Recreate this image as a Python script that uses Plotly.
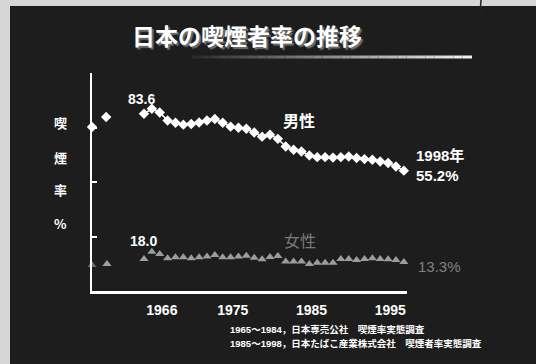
import plotly.graph_objects as go

# ---- data ----
years = list(range(1965, 1999))
male = [81.3, 83.6, 81.9, 78.2, 77.2, 76.3, 76.6, 77.3, 78.2, 78.9,
        77.2, 75.4, 74.9, 74.4, 72.7, 70.8, 71.7, 69.8, 66.3, 64.8,
        64.0, 62.2, 61.4, 61.4, 61.2, 61.4, 61.7, 61.0, 60.5, 60.2,
        59.4, 58.7, 57.1, 55.2]
female = [14.7, 18.0, 17.0, 15.0, 15.5, 15.5, 15.0, 15.5, 15.8, 16.5,
          15.5, 15.5, 15.8, 16.2, 15.3, 14.6, 15.6, 16.1, 13.5, 13.5,
          13.5, 12.4, 13.0, 13.0, 13.0, 14.7, 14.7, 14.2, 14.7, 15.0,
          14.7, 14.6, 14.2, 13.3]
early_years_m = [1958.4, 1960.2]
early_male = [75.2, 79.8]
early_years_f = [1958.4, 1960.3]
early_female = [11.9, 12.4]
tick_years = [1966, 1975, 1985, 1995]
tick_labels = ["1966", "1975", "1985", "1995"]
ytick_vals = [25, 50, 75, 100]

# ---- layout geometry ----
W, H = 536, 364
L, R, T, B = 92, 129, 73, 73
PW, PH = W - L - R, H - T - B


def px(x):
    return (x - L) / PW


def py(y):
    return (H - B - y) / PH


FONT = "Liberation Sans, Noto Sans CJK JP, sans-serif"
CJK = "Noto Sans CJK JP, sans-serif"
BG = "#1d1d1d"

fig = go.Figure()
fig.add_trace(go.Scatter(x=years, y=female, mode="markers",
                         marker=dict(symbol="triangle-up", size=8, color="#9c9c9c"),
                         cliponaxis=False, showlegend=False))
fig.add_trace(go.Scatter(x=early_years_f, y=early_female, mode="markers",
                         marker=dict(symbol="triangle-up", size=8, color=["#6a6a6a", "#a0a0a0"]),
                         cliponaxis=False, showlegend=False))
fig.add_trace(go.Scatter(x=years, y=male, mode="lines+markers",
                         line=dict(color="white", width=1.5),
                         marker=dict(symbol="diamond", size=8, color="white"),
                         cliponaxis=False, showlegend=False))
fig.add_trace(go.Scatter(x=early_years_m, y=early_male, mode="markers",
                         marker=dict(symbol="diamond", size=8, color="white"),
                         cliponaxis=False, showlegend=False))

shapes = [
    dict(type="rect", xref="paper", yref="paper", x0=px(0), x1=px(10), y0=py(H), y1=py(0),
         fillcolor="#d6d6d6", line=dict(width=0), layer="below"),
    dict(type="rect", xref="paper", yref="paper", x0=px(0), x1=px(W), y0=py(6), y1=py(0),
         fillcolor="#d6d6d6", line=dict(width=0), layer="below"),
    dict(type="line", xref="paper", yref="paper", x0=px(481), x1=px(480), y0=py(0), y1=py(14),
         line=dict(color="#222", width=1.5)),
]
# gradient rule under the title
N = 30
x_start, x_end, y_rule = 192, 472, 57
for i in range(N):
    t = i / (N - 1)
    c = int(45 + (240 - 45) * t)
    shapes.append(dict(type="line", xref="paper", yref="paper",
                       x0=px(x_start + (x_end - x_start) * i / N),
                       x1=px(x_start + (x_end - x_start) * (i + 1) / N),
                       y0=py(y_rule), y1=py(y_rule),
                       line=dict(color=f"rgb({c},{c},{c})", width=3)))

ann = []


def add(text, x, y, size, color="white", bold=True, xanchor="center", family=FONT, shadow=None):
    f = dict(size=size, color=color, family=family)
    if shadow:
        f["shadow"] = shadow
    ann.append(dict(text=f"<b>{text}</b>" if bold else text, x=px(x), y=py(y),
                    xref="paper", yref="paper", showarrow=False,
                    xanchor=xanchor, yanchor="middle", font=f))


# title with drop shadow
add("日本の喫煙者率の推移", 247, 35, 23, family=CJK, shadow="2px 2px 1px #6e6e6e")
# y-axis title, stacked
for ch, yy in zip(["喫", "煙", "率", "%"], [122, 157, 189, 223]):
    add(ch, 60, yy, 13, family=CJK)
add("83.6", 141, 99, 14)
add("男性", 299, 120, 16, family=CJK)
add("1998年", 414, 155, 15, xanchor="left")
add("55.2%", 414, 175, 15, xanchor="left")
add("18.0", 143, 241, 14)
add("女性", 300, 240, 16, color="#7a7a7a", bold=False, family=CJK)
add("13.3%", 416, 266, 15, color="#808080", bold=False, xanchor="left")
add("1965～1984，日本専売公社　喫煙率実態調査", 228, 329, 9.5, xanchor="left")
add("1985～1998，日本たばこ産業株式会社　喫煙者率実態調査", 228, 343, 9.5, xanchor="left")

fig.update_layout(
    width=W, height=H,
    margin=dict(l=L, r=R, t=T, b=B, pad=0),
    paper_bgcolor=BG, plot_bgcolor="rgba(0,0,0,0)",
    shapes=shapes, annotations=ann, showlegend=False,
    xaxis=dict(range=[1958.4, 1998.4], showgrid=False, zeroline=False,
               showline=True, linecolor="white", linewidth=2.5,
               tickvals=tick_years, ticktext=tick_labels, ticks="",
               ticklabelshift=10, ticklabelstandoff=4,
               tickfont=dict(size=14, color="white", family=FONT, weight="bold")),
    yaxis=dict(range=[0, 100], showgrid=False, zeroline=False,
               showline=True, linecolor="white", linewidth=2,
               tickvals=ytick_vals, ticks="inside", ticklen=5, tickwidth=1.5,
               tickcolor="white", showticklabels=False),
)

fig.write_html("out.html")
